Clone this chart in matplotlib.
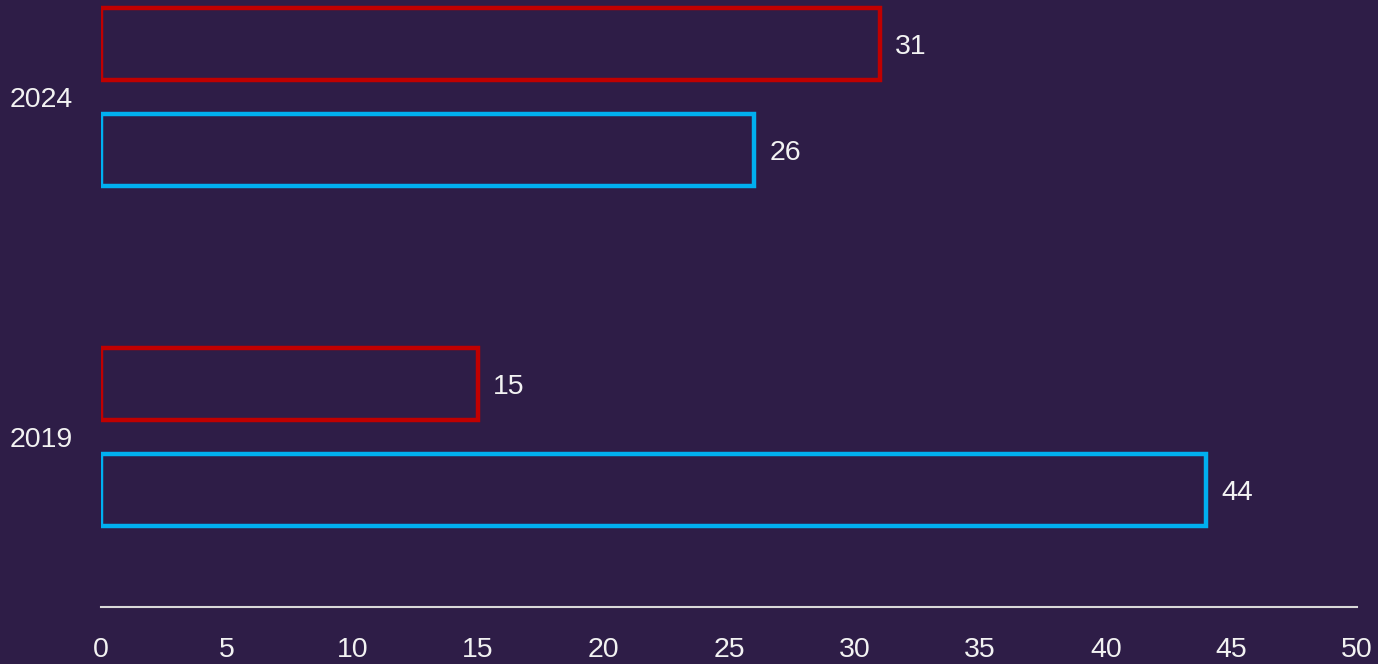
import matplotlib.pyplot as plt
import numpy as np

plt.rcParams['font.family'] = ['Liberation Sans', 'DejaVu Sans']

# Data
years = ['2019', '2024']
red_values = [15, 31]
blue_values = [44, 26]
x_ticks = [0, 5, 10, 15, 20, 25, 30, 35, 40, 45, 50]

bg = '#2e1d47'
red = '#c00000'
blue = '#00b0f0'
txt = '#f2f2f2'

fig = plt.figure(figsize=(13.78, 6.64), dpi=100, facecolor=bg)
ax = fig.add_axes([101 / 1378, 1 - 607 / 664, (1357 - 101) / 1378, 607 / 664])
ax.set_facecolor(bg)

y = np.arange(len(years))
h = 0.212
off = 0.157

bars_red = ax.barh(y + off, red_values, height=h, facecolor='none',
                   edgecolor=red, linewidth=3.2)
bars_blue = ax.barh(y - off, blue_values, height=h, facecolor='none',
                    edgecolor=blue, linewidth=3.2)

for bars in (bars_red, bars_blue):
    for rect, v in zip(bars, bars.datavalues):
        ax.annotate(str(v), (rect.get_width(), rect.get_y() + rect.get_height() / 2),
                    xytext=(11, 0), textcoords='offset points',
                    ha='left', va='center_baseline', color=txt, fontsize=20.5)

ax.set_xlim(0, 50)
ax.set_ylim(-0.5, 1 + 97 / 340)
ax.set_xticks(x_ticks)
ax.set_yticks(y)
ax.set_yticklabels(years)
ax.tick_params(axis='x', length=0, pad=21.5, labelsize=20.5, colors=txt)
ax.tick_params(axis='y', length=0, pad=20, labelsize=20.5, colors=txt)

for s in ['top', 'right', 'left']:
    ax.spines[s].set_visible(False)
ax.spines['bottom'].set_color('#d9d9d9')
ax.spines['bottom'].set_linewidth(1.5)

plt.savefig('out.png', dpi=100, facecolor=bg)
